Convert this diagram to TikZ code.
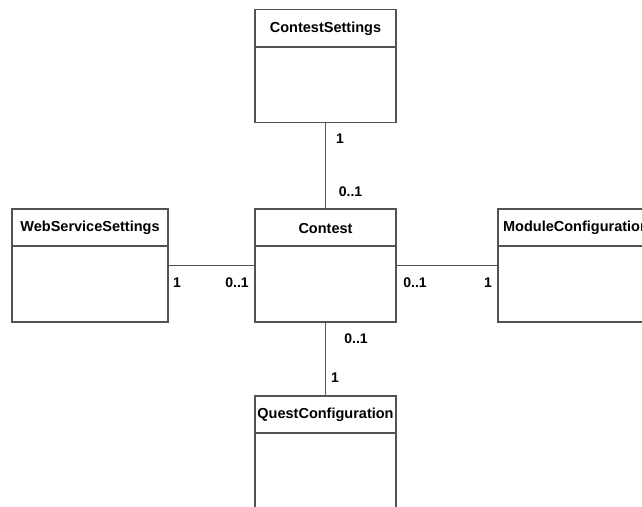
\documentclass[tikz,border=0pt]{standalone}
\usepackage{fontspec}
\setmainfont{Liberation Sans}
\begin{document}
\begin{tikzpicture}[x=1pt,y=-1pt,
  line/.style={draw=black!68, line width=1.6pt},
  classbox/.style={line, rectangle, inner sep=0pt, minimum height=113pt},
  title/.style={font=\fontsize{14.5}{16}\selectfont\bfseries, inner sep=0pt, text=black},
  mult/.style={font=\fontsize{14}{16}\selectfont\bfseries, inner sep=0pt, text=black}]
\useasboundingbox (0,0) rectangle (642,506);
\clip (0,0) rectangle (642,506);

% class boxes
\node[classbox, minimum width=141pt] (cs) at (325.5,66) {};
\node[classbox, minimum width=141pt] (ct) at (325.5,265.5) {};
\node[classbox, minimum width=156pt] (ws) at (90,265.5) {};
\node[classbox, minimum width=156pt] (mc) at (576,265.5) {};
\node[classbox, minimum width=141pt] (qc) at (325.5,452.5) {};

% header separators and class names
\foreach \n/\t in {cs/ContestSettings, ct/Contest, ws/WebServiceSettings,
                   mc/ModuleConfiguration, qc/QuestConfiguration} {
  \draw[line] ([yshift=-38pt]\n.north west) -- ([yshift=-38pt]\n.north east);
  \node[title] (\n-name) at ([yshift=-20pt]\n.north) {\t};
}

% associations
\draw[line] (cs.south) -- (ct.north);
\draw[line] (ws.east) -- (ct.west);
\draw[line] (ct.east) -- (mc.west);
\draw[line] (ct.south) -- (qc.north);

% multiplicities
\node[mult] (m1) at (340,139) {1};
\node[mult] (m2) at (350.5,192) {0..1};
\node[mult] (m3) at (177,283) {1};
\node[mult] (m4) at (237,283) {0..1};
\node[mult] (m5) at (415,283) {0..1};
\node[mult] (m6) at (488,283) {1};
\node[mult] (m7) at (356,339) {0..1};
\node[mult] (m8) at (335,378) {1};
\end{tikzpicture}
\end{document}
